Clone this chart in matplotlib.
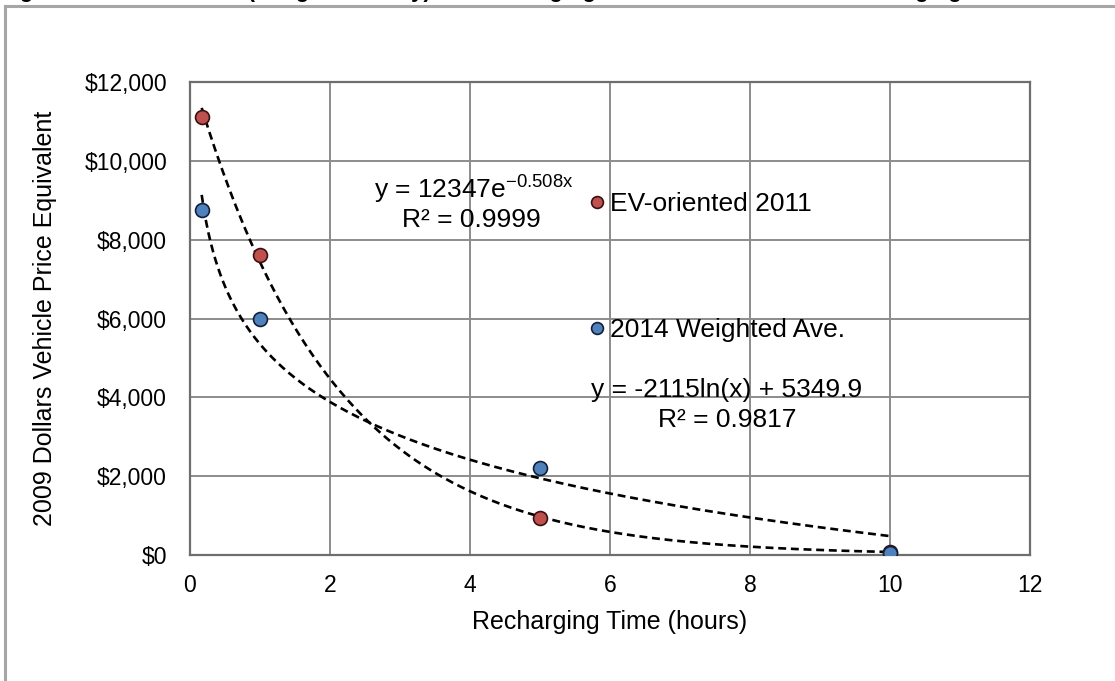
import numpy as np
import matplotlib
matplotlib.use("Agg")
import matplotlib.pyplot as plt
from matplotlib.lines import Line2D
from matplotlib.ticker import FuncFormatter

plt.rcParams['font.family'] = ['Liberation Sans', 'DejaVu Sans']
plt.rcParams['mathtext.fontset'] = 'custom'
plt.rcParams['mathtext.rm'] = 'Liberation Sans'
plt.rcParams['mathtext.it'] = 'Liberation Sans'

# Data
hours = [0.167, 1, 5, 10]
ev_2011 = [11100, 7600, 950, 80]
wavg_2014 = [8750, 5980, 2200, 50]

# Trendline coefficients shown on the chart
exp_a, exp_b = 12347, -0.508
log_a, log_b = -2115, 5349.9

series_labels = ["EV-oriented 2011", "2014 Weighted Ave."]
title_text = "Figure 9. Value of Time (Long Term Only) vs. Recharging Time for Electric Vehicle Charging"

fig = plt.figure(figsize=(11.15, 6.81), dpi=100)
ax = fig.add_axes([0.1704, 0.185, 0.7534, 0.6946])

# clipped title fragment (cut off at the top edge, as in the reference) and border
fig.text(0.0, 1 + 2.5/681, title_text, fontsize=16, fontweight='bold', va='baseline', ha='left')
fig.add_artist(Line2D([5/1115, 1], [1 - 6/681, 1 - 6/681], color='#a6a6a6', lw=2.2))
fig.add_artist(Line2D([5/1115, 5/1115], [0, 1 - 6/681], color='#a6a6a6', lw=2.2))

# trendlines
xs = np.linspace(hours[0], hours[-1], 300)
ax.plot(xs, exp_a * np.exp(exp_b * xs), color='black', ls=(0, (3, 1.8)), lw=1.9, zorder=3)
ax.plot(xs, log_a * np.log(xs) + log_b, color='black', ls=(0, (3, 1.8)), lw=1.9, zorder=3)

h1, = ax.plot(hours, ev_2011, 'o', ms=10, mfc='#c0504d', mec='#3a1010', mew=1.2, zorder=4, label=series_labels[0])
h2, = ax.plot(hours, wavg_2014, 'o', ms=10, mfc='#4f81bd', mec='#10203a', mew=1.2, zorder=5, label=series_labels[1])

ax.set_xlim(0, 12)
ax.set_ylim(0, 12000)
ax.set_xticks(range(0, 13, 2))
ax.set_yticks(range(0, 12001, 2000))
ax.yaxis.set_major_formatter(FuncFormatter(lambda v, p: f"${v:,.0f}"))
ax.tick_params(axis='both', length=0, labelsize=16.5)
ax.tick_params(axis='y', pad=16.5)
ax.tick_params(axis='x', pad=14)
ax.grid(True, color='#8c8c8c', lw=1.4)
ax.set_axisbelow(True)
for s in ax.spines.values():
    s.set_color('#6e6e6e')
    s.set_linewidth(1.6)

ax.set_xlabel("Recharging Time (hours)", fontsize=18, labelpad=9)
ax.set_ylabel("2009 Dollars Vehicle Price Equivalent", fontsize=18, labelpad=20)

leg = ax.legend(handles=[h1, h2], loc='upper left', bbox_to_anchor=(0.461, 0.795),
                frameon=False, fontsize=19, handlelength=0.5, handletextpad=0.25,
                labelspacing=3.85, borderpad=0, markerscale=0.85)

ax.text(0.338, 0.7717, "y = 12347e$^{\\mathrm{-0.508x}}$", transform=ax.transAxes,
        ha='center', va='center', fontsize=19)
ax.text(0.335, 0.708, "R² = 0.9999", transform=ax.transAxes,
        ha='center', va='center', fontsize=19)
ax.text(0.639, 0.349, "y = -2115ln(x) + 5349.9", transform=ax.transAxes,
        ha='center', va='center', fontsize=19)
ax.text(0.639, 0.2854, "R² = 0.9817", transform=ax.transAxes,
        ha='center', va='center', fontsize=19)

fig.savefig("out.png", dpi=100, facecolor='white')
